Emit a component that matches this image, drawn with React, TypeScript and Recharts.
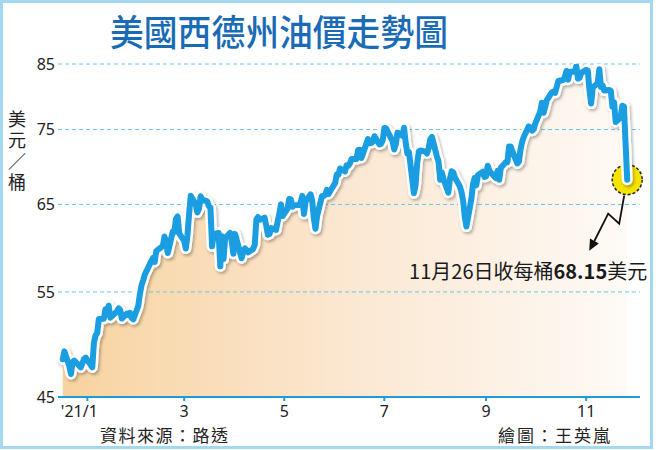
import React from 'react';
import { ComposedChart, Area, Line, XAxis, YAxis, ReferenceLine } from 'recharts';

// WTI daily closes (US$/barrel), [day of month, close]
const DEC_2020: [number, number][] = [[17, 48.36], [18, 49.1], [21, 47.74], [22, 47.02], [23, 48.12], [24, 48.23], [28, 47.62], [29, 48.0], [30, 48.4], [31, 48.52]];
const JAN_2021: [number, number][] = [[4, 47.62], [5, 49.93], [6, 50.63], [7, 50.83], [8, 52.24], [11, 52.25], [12, 53.21], [13, 52.91], [14, 53.57], [15, 52.36], [19, 52.98], [20, 53.31], [21, 53.13], [22, 52.27], [25, 52.77], [26, 52.61], [27, 52.85], [28, 52.34], [29, 52.2]];
const FEB_2021: [number, number][] = [[1, 53.55], [2, 54.76], [3, 55.69], [4, 56.23], [5, 56.85], [8, 57.97], [9, 58.36], [10, 58.68], [11, 58.24], [12, 59.47], [16, 60.05], [17, 61.14], [18, 60.52], [19, 59.24], [22, 61.7], [23, 61.67], [24, 63.22], [25, 63.53], [26, 61.5]];
const MAR_2021: [number, number][] = [[1, 60.64], [2, 59.75], [3, 61.28], [4, 63.83], [5, 66.09], [8, 65.05], [9, 64.01], [10, 64.44], [11, 66.02], [12, 65.61], [15, 65.39], [16, 64.8], [17, 64.6], [18, 60.0], [19, 61.42], [22, 61.55], [23, 57.76], [24, 61.18], [25, 58.56], [26, 60.97], [29, 61.56], [30, 60.55], [31, 59.16]];
const APR_2021: [number, number][] = [[1, 61.45], [5, 58.65], [6, 59.33], [7, 59.77], [8, 59.6], [9, 59.32], [12, 59.7], [13, 60.18], [14, 63.15], [15, 63.46], [16, 63.13], [19, 63.38], [20, 62.44], [21, 61.35], [22, 61.43], [23, 62.14], [26, 61.91], [27, 62.94], [28, 63.86], [29, 65.01], [30, 63.58]];
const MAY_2021: [number, number][] = [[3, 64.49], [4, 65.69], [5, 65.63], [6, 64.71], [7, 64.9], [10, 64.92], [11, 65.28], [12, 66.08], [13, 63.82], [14, 65.37], [17, 66.27], [18, 65.49], [19, 63.36], [20, 62.05], [21, 63.58], [24, 66.05], [25, 66.07], [26, 66.21], [27, 66.85], [28, 66.32]];
const JUN_2021: [number, number][] = [[1, 67.72], [2, 68.83], [3, 68.81], [4, 69.62], [7, 69.23], [8, 70.05], [9, 69.96], [10, 70.29], [11, 70.91], [14, 70.88], [15, 72.12], [16, 72.15], [17, 71.04], [18, 71.64], [21, 73.66], [22, 73.06], [23, 73.08], [24, 73.3], [25, 74.05], [28, 72.91], [29, 72.98], [30, 73.47]];
const JUL_2021: [number, number][] = [[1, 75.23], [2, 75.16], [6, 73.37], [7, 72.2], [8, 72.94], [9, 74.56], [12, 74.1], [13, 75.25], [14, 73.13], [15, 71.65], [16, 71.81], [19, 66.42], [20, 67.42], [21, 70.3], [22, 71.91], [23, 72.07], [26, 71.91], [27, 71.65], [28, 72.39], [29, 73.62], [30, 73.95]];
const AUG_2021: [number, number][] = [[2, 71.26], [3, 70.56], [4, 68.15], [5, 69.09], [6, 68.28], [9, 66.48], [10, 68.29], [11, 69.25], [12, 69.09], [13, 68.44], [16, 67.29], [17, 66.59], [18, 65.46], [19, 63.5], [20, 62.32], [23, 65.64], [24, 67.54], [25, 68.36], [26, 67.42], [27, 68.74], [30, 69.21], [31, 68.5]];
const SEP_2021: [number, number][] = [[1, 68.59], [2, 69.99], [3, 69.29], [7, 68.35], [8, 69.3], [9, 68.14], [10, 69.72], [13, 70.45], [14, 70.46], [15, 72.61], [16, 72.61], [17, 71.97], [20, 70.29], [21, 70.56], [22, 72.23], [23, 73.3], [24, 73.98], [27, 75.45], [28, 75.29], [29, 74.83], [30, 75.03]];
const OCT_2021: [number, number][] = [[1, 75.88], [4, 77.62], [5, 78.93], [6, 77.43], [7, 78.3], [8, 79.35], [11, 80.52], [12, 80.64], [13, 80.44], [14, 81.31], [15, 82.28], [18, 82.44], [19, 82.96], [20, 83.87], [21, 82.5], [22, 83.76], [25, 83.76], [26, 84.65], [27, 82.66], [28, 82.81], [29, 83.57]];
const NOV_2021: [number, number][] = [[1, 84.05], [2, 83.91], [3, 80.86], [4, 78.81], [5, 81.27], [8, 81.93], [9, 84.15], [10, 81.34], [11, 81.59], [12, 80.79], [15, 80.88], [16, 80.76], [17, 78.36], [18, 79.01], [19, 76.1], [22, 76.75], [23, 78.5], [24, 78.39], [26, 68.15]];

const MONTHS: [number, number, [number, number][]][] = [
  [2020, 11, DEC_2020], [2021, 0, JAN_2021], [2021, 1, FEB_2021], [2021, 2, MAR_2021],
  [2021, 3, APR_2021], [2021, 4, MAY_2021], [2021, 5, JUN_2021], [2021, 6, JUL_2021],
  [2021, 7, AUG_2021], [2021, 8, SEP_2021], [2021, 9, OCT_2021], [2021, 10, NOV_2021],
];

const X_TICKS = [Date.UTC(2021, 0, 1), Date.UTC(2021, 2, 1), Date.UTC(2021, 4, 1), Date.UTC(2021, 6, 1), Date.UTC(2021, 8, 1), Date.UTC(2021, 10, 1)];
const X_TICK_LABELS = ["'21/1", '3', '5', '7', '9', '11'];
const Y_TICKS = [45, 55, 65, 75, 85];
const Y_GRID = [55, 65, 75, 85];

const TITLE = '美國西德州油價走勢圖';
const UNIT = '美元／桶';
const SOURCE = '資料來源：路透';
const CREDIT = '繪圖：王英嵐';
const NOTE_PREFIX = '11月26日收每桶';
const NOTE_VALUE = '68.15';
const NOTE_SUFFIX = '美元';

const DAY = 86400000;
const X_DOMAIN = [Date.UTC(2021, 0, 1) - 17.9 * DAY, Date.UTC(2021, 0, 1) + 336.8 * DAY];

const DATA = MONTHS.flatMap(([y, m, rows]) => rows.map(([d, p]) => ({ t: Date.UTC(y, m, d), price: p })));

const CJK = "'Noto Sans CJK TC', 'Noto Sans', sans-serif";

const XTick = (props: any) => {
  const { x, y, payload } = props;
  const i = X_TICKS.indexOf(payload.value);
  return (
    <text x={x + (i === 0 ? -8 : 0)} y={y} dy={14} textAnchor="middle" fontSize={16} fill="#222" fontFamily="'Noto Sans', sans-serif">
      {X_TICK_LABELS[i]}
    </text>
  );
};

const renderEndMarker = (props: any) => {
  const { cx, cy, index } = props;
  if (index !== DATA.length - 1) return <g key={`d-${index}`} />;
  const tipX = cx - 38, tipY = cy + 71;
  return (
    <g key="end-marker">
      <circle cx={cx} cy={cy} r={15} fill="#f5e400" stroke="#222" strokeWidth={1.5} strokeDasharray="3 2" />
      <polyline
        points={`${cx - 3},${cy + 16} ${cx - 8},${cy + 44} ${cx - 19},${cy + 34} ${cx - 32.8},${cy + 61.3}`}
        fill="none" stroke="#111" strokeWidth={1.8} strokeLinejoin="miter"
      />
      <polygon points={`${tipX},${tipY} ${cx - 28.4},${cy + 63.7} ${cx - 37.2},${cy + 58.9}`} fill="#111" />
      <text x={cx + 20} y={cy + 99} textAnchor="end" fontSize={20} fill="#1a1a1a" fontFamily={CJK}>
        <tspan>{NOTE_PREFIX}</tspan>
        <tspan fontWeight="bold">{NOTE_VALUE}</tspan>
        <tspan>{NOTE_SUFFIX}</tspan>
      </text>
    </g>
  );
};

export default function App() {
  return (
    <div style={{ position: 'absolute', left: 0, top: 0, width: 656, height: 450, background: '#fff', overflow: 'hidden' }}>
      <div style={{ position: 'absolute', left: 0, top: 0 }}>
        <ComposedChart width={656} height={450} data={DATA} margin={{ top: 64, right: 16, bottom: 0, left: 0 }}>
          <defs>
            <linearGradient id="fillGrad" x1="0" y1="0" x2="1" y2="0">
              <stop offset="0%" stopColor="#f8d3a0" />
              <stop offset="50%" stopColor="#fbe7d1" />
              <stop offset="100%" stopColor="#fefaf6" />
            </linearGradient>
            <filter id="lineShadow" x="-5%" y="-10%" width="110%" height="130%">
              <feDropShadow dx="1.5" dy="2" stdDeviation="1.5" floodColor="#000" floodOpacity="0.3" />
            </filter>
          </defs>
          <XAxis
            dataKey="t"
            type="number"
            domain={X_DOMAIN}
            ticks={X_TICKS}
            interval={0}
            height={53}
            axisLine={{ stroke: '#1d9ad8', strokeWidth: 2 }}
            tickLine={{ stroke: '#1d9ad8', strokeWidth: 2 }}
            tickSize={4}
            tick={<XTick />}
          />
          <YAxis
            type="number"
            scale="log"
            domain={[45, 85]}
            ticks={Y_TICKS}
            interval={0}
            width={58}
            axisLine={false}
            tickLine={false}
            tickSize={0}
            tickMargin={3}
            allowDataOverflow
            tick={{ fontSize: 16, fill: '#222', fontFamily: "'Noto Sans', sans-serif" }}
          />
          <Area
            type="linear"
            dataKey="price"
            stroke="none"
            fill="url(#fillGrad)"
            fillOpacity={1}
            baseValue="dataMin"
            dot={renderEndMarker}
            activeDot={false}
            isAnimationActive={false}
          />
          {Y_GRID.map((v) => (
            <ReferenceLine key={v} y={v} stroke="#6cc4e6" strokeDasharray="4 3" strokeWidth={1} />
          ))}
          <Line
            type="linear"
            dataKey="price"
            stroke="#ffffff"
            strokeWidth={11}
            strokeLinejoin="round"
            strokeLinecap="round"
            filter="url(#lineShadow)"
            dot={false}
            activeDot={false}
            isAnimationActive={false}
            zIndex={1000}
          />
          <Line
            type="linear"
            dataKey="price"
            stroke="#1b9de2"
            strokeWidth={6}
            strokeLinejoin="round"
            strokeLinecap="round"
            dot={false}
            activeDot={false}
            isAnimationActive={false}
            zIndex={1001}
          />
        </ComposedChart>
      </div>
      <svg width={656} height={450} style={{ position: 'absolute', left: 0, top: 0, pointerEvents: 'none' }}>
        <text x={279} y={46} textAnchor="middle" fontSize={36} fontWeight={500} fill="#1a6bb6" fontFamily={CJK} textLength={338} lengthAdjust="spacingAndGlyphs">
          {TITLE}
        </text>
        <text x={17} y={110} fontSize={18} fill="#222" fontFamily={CJK} style={{ writingMode: 'vertical-rl', letterSpacing: 3 }}>
          {UNIT}
        </text>
        <text x={100} y={442} fontSize={17} fill="#222" fontFamily={CJK} textLength={128}>{SOURCE}</text>
        <text x={498} y={442} fontSize={17} fill="#222" fontFamily={CJK} textLength={112}>{CREDIT}</text>
      </svg>
      <div style={{ position: 'absolute', left: 0, top: 0, width: 653, height: 449, border: '3px solid #a4d8f1', boxSizing: 'border-box' }} />
    </div>
  );
}
